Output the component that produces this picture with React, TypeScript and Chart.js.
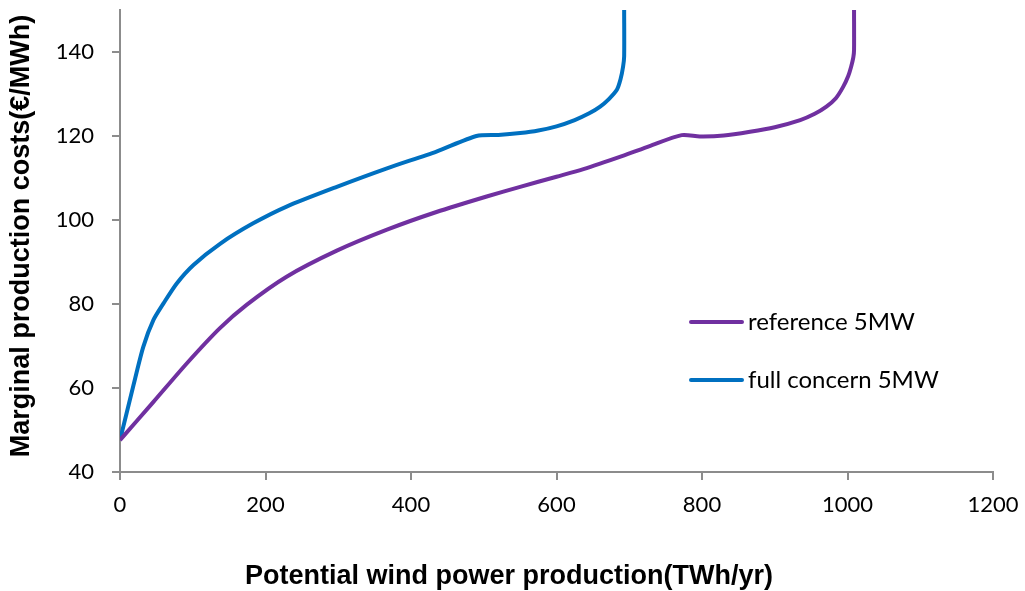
import React, { useEffect, useRef } from "react";
import { Chart, registerables } from "chart.js";

Chart.register(...registerables);

const referenceX = [0, 46, 92, 137, 174, 229, 298, 367, 435, 504, 550, 600, 637, 690, 728, 772, 797, 830, 866, 900, 935, 955, 971, 984, 994, 1001, 1005, 1008, 1009, 1009];
const referenceY = [47.6, 56.7, 65.9, 74.2, 79.8, 86.5, 92.7, 97.7, 101.9, 105.6, 107.9, 110.3, 112.1, 115.2, 117.6, 120.2, 119.9, 120.1, 121, 122.1, 123.8, 125.3, 127, 129, 131.7, 134.3, 136.5, 138.7, 140.5, 150];

const fullX = [0, 18, 32, 46, 60, 78, 101, 138, 183, 229, 298, 367, 435, 490, 520, 550, 575, 600, 625, 645, 660, 672, 683, 688, 691.5, 693, 693];
const fullY = [47.6, 60.3, 69.8, 76.2, 80.2, 84.9, 89.3, 94.4, 99.2, 103.2, 107.9, 112.3, 116.3, 120, 120.25, 120.7, 121.3, 122.3, 123.8, 125.4, 127, 128.8, 131, 133.5, 136.5, 139, 150];

const seriesLabels = ["reference 5MW", "full concern 5MW"];
const seriesColors = ["#7030A0", "#0070C0"];
const xTitle = "Potential wind power production(TWh/yr)";
const yTitle = "Marginal production costs(€/MWh)";

const tickFont = { family: "Lato", size: 22 };
const axisColor = "#8c8c8c";

const overlayPlugin = {
  id: "overlay",
  afterDraw(chart: any) {
    const ctx = chart.ctx;
    ctx.save();
    const items = [
      { y: 322, label: seriesLabels[0], color: seriesColors[0] },
      { y: 380, label: seriesLabels[1], color: seriesColors[1] },
    ];
    for (const it of items) {
      ctx.strokeStyle = it.color;
      ctx.lineWidth = 4;
      ctx.lineCap = "round";
      ctx.beginPath();
      ctx.moveTo(691, it.y);
      ctx.lineTo(742, it.y);
      ctx.stroke();
      ctx.fillStyle = "#000";
      ctx.font = "24px Lato";
      ctx.textBaseline = "middle";
      ctx.textAlign = "left";
      ctx.fillText(it.label, 748, it.y);
    }
    ctx.font = "bold 27px 'Liberation Sans'";
    ctx.textAlign = "center";
    ctx.textBaseline = "middle";
    ctx.fillText(xTitle, 509, 577);
    ctx.translate(22, 236);
    ctx.rotate(-Math.PI / 2);
    ctx.fillText(yTitle, 0, 0);
    ctx.restore();
  },
};

export default function App() {
  const ref = useRef<HTMLCanvasElement | null>(null);
  useEffect(() => {
    if (!ref.current) return;
    const toPts = (xs: number[], ys: number[]) => xs.map((x, i) => ({ x, y: ys[i] }));
    const chart = new Chart(ref.current, {
      type: "line",
      data: {
        datasets: [
          {
            label: seriesLabels[0],
            data: toPts(referenceX, referenceY),
            borderColor: seriesColors[0],
            borderWidth: 4,
            pointRadius: 0,
            tension: 0.25,
            fill: false,
          },
          {
            label: seriesLabels[1],
            data: toPts(fullX, fullY),
            borderColor: seriesColors[1],
            borderWidth: 4,
            pointRadius: 0,
            tension: 0.25,
            fill: false,
          },
        ],
      },
      options: {
        animation: false,
        responsive: false,
        devicePixelRatio: 1,
        layout: { padding: { left: 0, right: 32, top: 10, bottom: 0 } },
        plugins: { legend: { display: false }, tooltip: { enabled: false } },
        scales: {
          x: {
            type: "linear",
            min: 0,
            max: 1200,
            ticks: { stepSize: 200, font: tickFont, color: "#000", padding: 12, maxRotation: 0, callback: (v: any) => String(v) },
            grid: { display: true, drawOnChartArea: false, drawTicks: true, tickLength: 8, color: axisColor, lineWidth: 2 },
            border: { display: true, color: axisColor, width: 2 },
            afterFit: (s: any) => { s.height = 119; s.paddingLeft = 0; s.paddingRight = 0; },
          },
          y: {
            type: "linear",
            min: 40,
            max: 150,
            ticks: { stepSize: 20, font: tickFont, color: "#000", padding: 18, callback: (v: any) => String(v) },
            afterBuildTicks: (s: any) => { s.ticks = s.ticks.filter((t: any) => t.value <= 140); },
            grid: { display: true, drawOnChartArea: false, drawTicks: true, tickLength: 8, color: axisColor, lineWidth: 2 },
            border: { display: true, color: axisColor, width: 2 },
            afterFit: (s: any) => { s.width = 120; s.paddingTop = 0; s.paddingBottom = 0; },
          },
        },
      },
      plugins: [overlayPlugin],
    });
    return () => chart.destroy();
  }, []);
  return (
    <div style={{ position: "fixed", left: 0, top: 0, width: 1025, height: 591, background: "#fff" }}>
      <canvas ref={ref} width={1025} height={591} style={{ width: 1025, height: 591 }} />
    </div>
  );
}
